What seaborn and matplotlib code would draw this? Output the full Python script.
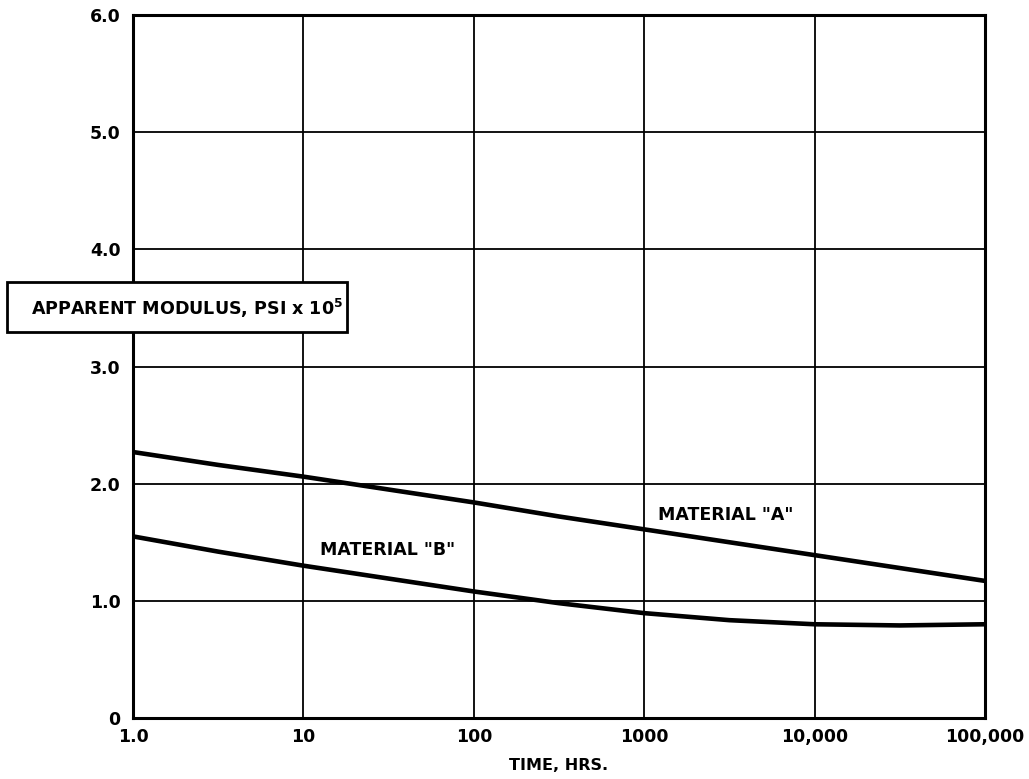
import numpy as np
import pandas as pd
import matplotlib
matplotlib.use("Agg")
import matplotlib.pyplot as plt
import seaborn as sns
from matplotlib.patches import Rectangle

# ---- data ----
time_hrs = [1, 3.16, 10, 31.6, 100, 316, 1000, 3162, 10000, 31623, 100000]
material_a = [2.27, 2.16, 2.06, 1.95, 1.84, 1.72, 1.61, 1.50, 1.39, 1.28, 1.17]
material_b = [1.55, 1.42, 1.30, 1.19, 1.08, 0.98, 0.895, 0.835, 0.80, 0.79, 0.80]

x_ticks = [1, 10, 100, 1000, 10000, 100000]
x_tick_labels = ["1.0", "10", "100", "1000", "10,000", "100,000"]
y_ticks = [0, 1, 2, 3, 4, 5, 6]
y_tick_labels = ["0", "1.0", "2.0", "3.0", "4.0", "5.0", "6.0"]

df = pd.DataFrame({
    "time": time_hrs * 2,
    "modulus": material_a + material_b,
    "material": ["A"] * len(time_hrs) + ["B"] * len(time_hrs),
})

sns.set_theme(style="white")
plt.rcParams["font.family"] = ["DejaVu Sans"]
plt.rcParams["text.color"] = "black"
plt.rcParams["axes.labelcolor"] = "black"

fig = plt.figure(figsize=(10.29, 7.79), dpi=100)
ax = fig.add_axes([133 / 1029, 61 / 779, 852 / 1029, 703 / 779])

sns.lineplot(data=df, x="time", y="modulus", hue="material",
             palette={"A": "black", "B": "black"}, linewidth=3.3,
             legend=False, ax=ax, zorder=3)

ax.set_xscale("log")
ax.set_xlim(1, 100000)
ax.set_ylim(0, 6)
ax.set_xticks(x_ticks)
ax.set_xticklabels(x_tick_labels, fontsize=12.5, fontweight="bold")
ax.xaxis.set_minor_locator(matplotlib.ticker.NullLocator())
ax.set_yticks(y_ticks)
ax.set_yticklabels(y_tick_labels, fontsize=12.5, fontweight="bold")
ax.tick_params(axis="both", length=0, colors="black")
ax.tick_params(axis="x", pad=7)
ax.tick_params(axis="y", pad=9)
ax.grid(True, color="black", linewidth=1.3)
ax.set_axisbelow(True)
for s in ax.spines.values():
    s.set_color("black")
    s.set_linewidth(2.2)

ax.set_xlabel("TIME, HRS.", fontsize=11.5, fontweight="bold", labelpad=9,
              color="black")
ax.set_ylabel("")

ax.text(1200, 1.73, 'MATERIAL "A"', fontsize=12.5, fontweight="bold",
        ha="left", va="center", color="black")
ax.text(12.5, 1.43, 'MATERIAL "B"', fontsize=12.5, fontweight="bold",
        ha="left", va="center", color="black")

# boxed y-axis label
fig.add_artist(Rectangle((7 / 1029, 1 - 332 / 779), 340 / 1029, 50 / 779,
                         transform=fig.transFigure, facecolor="white",
                         edgecolor="black", linewidth=2.0, zorder=5))
fig.text(187 / 1029, 1 - 308 / 779, r"APPARENT MODULUS, PSI x 10$^{\mathbf{5}}$",
         fontsize=12.6, fontweight="bold", ha="center", va="center",
         color="black", zorder=6)

fig.savefig("out.png", dpi=100)
